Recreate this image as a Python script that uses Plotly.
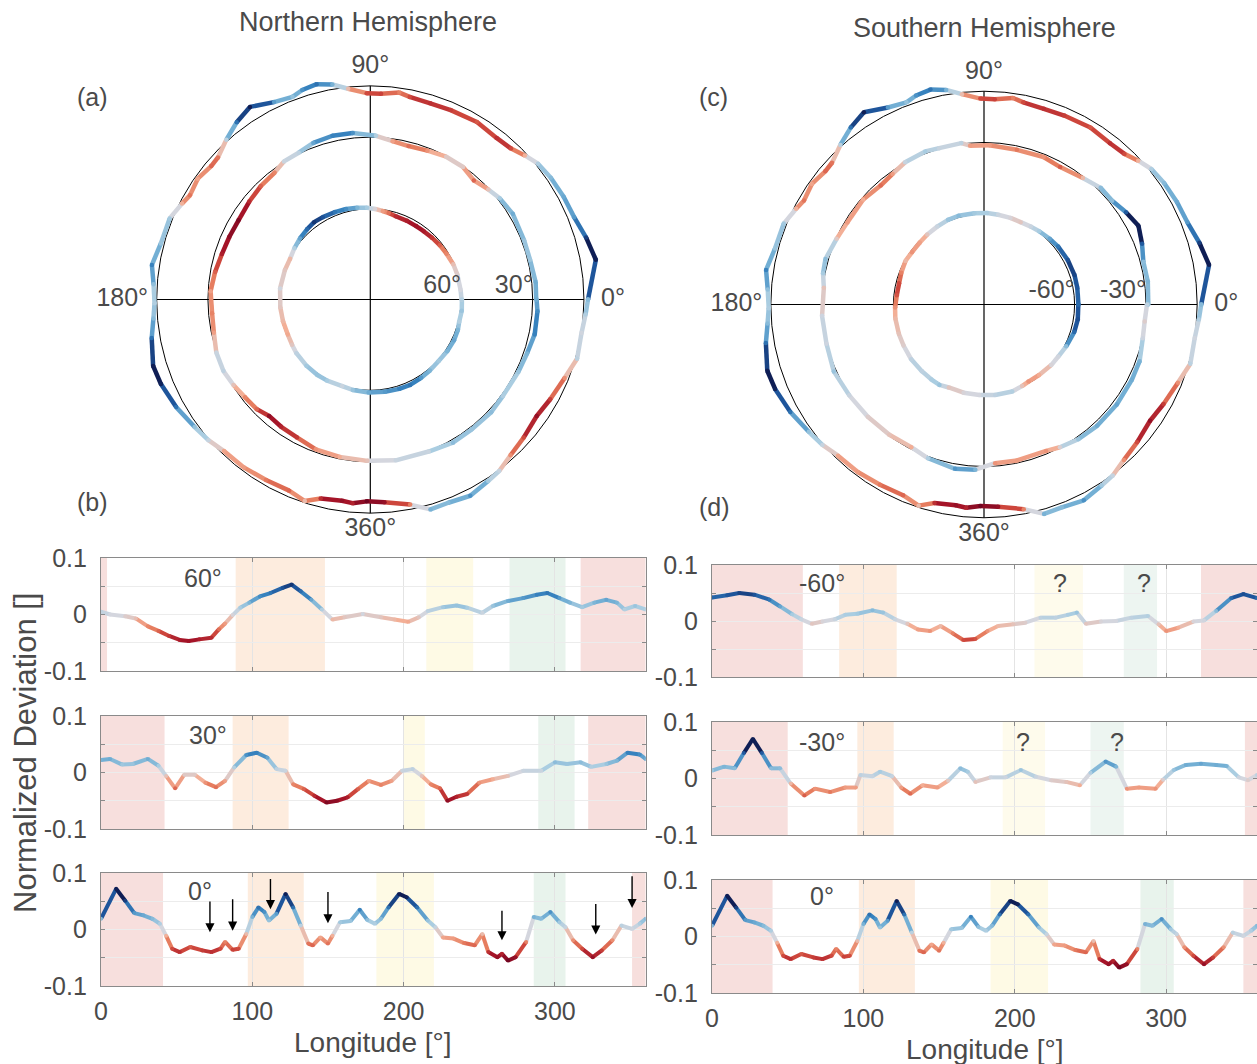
import plotly.graph_objects as go
from plotly.colors import sample_colorscale

# ---------------- data ----------------
# Equator (0 deg) – same curve is used in both hemispheres
LON_EQ = [0, 10, 16, 22, 28, 34, 39, 43, 47, 52, 59, 67, 73, 79, 82, 87, 91, 96, 100, 104,
          108, 111, 116, 122, 127, 132, 137, 140, 145, 150, 153, 158, 165, 171, 176, 181, 185, 190, 197, 202,
          209, 216, 221, 226, 233, 240, 247, 252, 256, 262, 265, 269, 274, 281, 286, 291, 297, 303, 307, 312,
          318, 325, 331, 338, 344, 351, 356, 360]
DEV_EQ = [0.019, 0.072, 0.051, 0.029, 0.025, 0.019, 0.010, -0.011, -0.034, -0.040,
          -0.031, -0.037, -0.040, -0.034, -0.022, -0.036, -0.034, -0.008, 0.022, 0.039,
          0.031, 0.016, 0.028, 0.063, 0.039, 0.007, -0.025, -0.028, -0.014, -0.025,
          -0.011, 0.013, 0.015, 0.035, 0.017, 0.010, 0.019, 0.039, 0.063, 0.057,
          0.039, 0.016, 0.004, -0.014, -0.016, -0.024, -0.028, -0.008, -0.040, -0.049,
          -0.043, -0.055, -0.049, -0.022, 0.022, 0.019, 0.031, 0.013, 0.004, -0.019,
          -0.034, -0.049, -0.037, -0.019, 0.007, 0.001, 0.010, 0.019]

LON_N60 = [0, 6, 16, 23, 31, 38, 45, 52, 58, 65, 73, 78, 82, 87, 92, 98, 105, 112, 120, 126,
           132, 139, 146, 153, 161, 173, 185, 194, 203, 210, 216, 226, 235, 242, 252, 259, 269, 279, 288, 295,
           303, 310, 318, 326, 334, 341, 346, 353, 360]
DEV_N60 = [0.005, 0.0, -0.003, -0.007, -0.021, -0.029, -0.038, -0.045, -0.047, -0.044,
           -0.041, -0.026, -0.016, -0.001, 0.012, 0.021, 0.032, 0.038, 0.047, 0.053,
           0.041, 0.026, 0.009, -0.009, -0.005, 0.001, -0.005, -0.009, -0.013, -0.005,
           0.006, 0.013, 0.016, 0.012, 0.003, 0.015, 0.024, 0.029, 0.035, 0.038,
           0.029, 0.021, 0.013, 0.021, 0.026, 0.021, 0.009, 0.015, 0.009]

LON_N30 = [0, 6, 14, 21, 31, 38, 43, 49, 55, 62, 69, 76, 82, 88, 96, 103, 110, 116, 122, 127,
           134, 141, 149, 156, 163, 170, 177, 185, 192, 199, 206, 212, 218, 224, 229, 235, 242, 250, 259, 269,
           279, 291, 300, 308, 317, 324, 334, 341, 348, 356, 360]
DEV_N30 = [0.022, 0.024, 0.014, 0.015, 0.024, 0.012, -0.006, -0.028, -0.004, -0.004,
           -0.018, -0.026, -0.015, 0.009, 0.031, 0.035, 0.026, 0.006, 0.003, -0.021,
           -0.029, -0.041, -0.053, -0.050, -0.044, -0.029, -0.015, -0.022, -0.015, 0.003,
           0.006, -0.006, -0.021, -0.028, -0.050, -0.043, -0.038, -0.018, -0.012, -0.006,
           0.003, 0.003, 0.018, 0.015, 0.018, 0.010, 0.015, 0.021, 0.035, 0.032, 0.024]

LON_S60 = [0, 10, 18, 28, 38, 45, 53, 59, 66, 73, 81, 88, 96, 106, 113, 121, 129, 136, 144, 151,
           159, 166, 174, 182, 189, 199, 207, 217, 227, 235, 241, 247, 257, 267, 277, 288, 295, 300, 308, 318,
           325, 333, 343, 351, 360]
DEV_S60 = [0.042, 0.046, 0.050, 0.047, 0.038, 0.026, 0.012, 0.003, -0.005, -0.001,
           0.003, 0.011, 0.013, 0.019, 0.015, 0.003, -0.005, -0.015, -0.018, -0.009,
           -0.022, -0.034, -0.032, -0.018, -0.009, -0.006, -0.003, 0.006, 0.006, 0.011,
           0.015, -0.005, -0.001, 0.0, 0.006, 0.009, -0.006, -0.018, -0.012, -0.001,
           0.001, 0.018, 0.041, 0.048, 0.041]

LON_S30 = [0, 8, 15, 21, 27, 33, 39, 45, 52, 61, 68, 78, 88, 95, 98, 106, 111, 119, 125, 131,
           139, 149, 156, 164, 169, 174, 184, 194, 204, 214, 224, 234, 243, 250, 260, 267, 274, 282, 293, 298,
           305, 313, 323, 333, 340, 348, 354, 360]
DEV_S30 = [0.014, 0.021, 0.018, 0.045, 0.070, 0.045, 0.018, 0.018, -0.009, -0.030,
           -0.018, -0.024, -0.016, -0.016, 0.006, 0.004, 0.012, 0.004, -0.016, -0.027,
           -0.012, -0.016, -0.004, 0.018, 0.012, -0.006, 0.002, 0.002, 0.015, 0.003,
           -0.003, -0.006, -0.012, 0.010, 0.030, 0.021, -0.018, -0.016, -0.018, -0.002,
           0.015, 0.024, 0.026, 0.024, 0.022, 0.002, -0.003, 0.006]

# shaded longitude bands per panel: (start, end, colour key)
BANDS_N60 = [(0, 4, 'r'), (89, 148, 'o'), (215, 246, 'y'), (270, 307, 'g'), (317, 360, 'r')]
BANDS_N30 = [(0, 42, 'r'), (87, 124, 'o'), (200, 214, 'y'), (289, 313, 'g'), (322, 360, 'r')]
BANDS_N0 = [(0, 41, 'r'), (97, 134, 'o'), (182, 220, 'y'), (286, 307, 'g'), (351, 360, 'r')]
BANDS_S60 = [(0, 60, 'r'), (84, 122, 'o'), (213, 245, 'y2'), (272, 294, 'g2'), (323, 360, 'r')]
BANDS_S30 = [(0, 50, 'r'), (96, 120, 'o'), (192, 220, 'y2'), (250, 272, 'g2'), (352, 360, 'r')]
BANDS_S0 = [(0, 40, 'r'), (97, 134, 'o'), (184, 222, 'y'), (283, 305, 'g'), (351, 360, 'r')]

# arrows in panel (b), 0 deg
ARROW_LON = [72, 87, 112, 150, 265, 327, 351]
ARROW_TIP = [-0.005, -0.002, 0.036, 0.011, -0.019, -0.009, 0.038]
ARROW_TAIL = [0.052, 0.056, 0.092, 0.069, 0.036, 0.048, 0.097]

RING_R = {'60': 0.425, '30': 0.76, '0': 1.0}
X_TICKS = [0, 100, 200, 300]
Y_TICKS = [-0.1, -0.05, 0, 0.05, 0.1]
Y_TICKTEXT = ['-0.1', '', '0', '', '0.1']

# ---------------- styling ----------------
W, H = 1257, 1064
TXT = '#4a4a4a'
FONT = 'Liberation Sans, Arial, sans-serif'
CSCALE = [
    [0.0, 'rgb(95,0,30)'], [0.1, 'rgb(165,20,40)'], [0.2, 'rgb(205,70,60)'],
    [0.3, 'rgb(230,125,95)'], [0.4, 'rgb(243,175,150)'], [0.5, 'rgb(212,214,222)'],
    [0.6, 'rgb(170,205,225)'], [0.7, 'rgb(115,175,212)'], [0.8, 'rgb(55,130,190)'],
    [0.9, 'rgb(30,85,155)'], [1.0, 'rgb(15,30,85)'],
]
VMAX = 0.058
NBINS = 31
BAND_COL = {'r': 'rgb(247,223,221)', 'o': 'rgb(253,236,222)',
            'y': 'rgb(254,250,229)', 'g': 'rgb(232,243,236)',
            'y2': 'rgb(254,251,236)', 'g2': 'rgb(237,245,241)'}
LINE_W = 4.0


def px_x(p):
    return p / W


def px_y(p):
    return 1 - p / H


def tnorm(v):
    return min(max((v + VMAX) / (2 * VMAX), 0.0), 1.0)


def segment_traces(xs, ys, vals, make):
    bins = {}
    for i in range(len(xs) - 1):
        m = 0.5 * (vals[i] + vals[i + 1])
        b = int(round(tnorm(m) * (NBINS - 1)))
        bx, by = bins.setdefault(b, ([], []))
        bx += [xs[i], xs[i + 1], None]
        by += [ys[i], ys[i + 1], None]
    out = []
    for b, (bx, by) in sorted(bins.items()):
        col = sample_colorscale(CSCALE, [b / (NBINS - 1)])[0]
        out.append(make(bx, by, col))
    return out


fig = go.Figure()

# ---------------- line panels ----------------
panels = [
    (1, LON_N60, DEV_N60, BANDS_N60, (101, 645.7), (558, 671)),
    (2, LON_N30, DEV_N30, BANDS_N30, (101, 645.7), (716, 829)),
    (3, LON_EQ, DEV_EQ, BANDS_N0, (101, 645.7), (873, 986)),
    (4, LON_S60, DEV_S60, BANDS_S60, (712, 1257.5), (565, 677)),
    (5, LON_S30, DEV_S30, BANDS_S30, (712, 1257.5), (722, 835)),
    (6, LON_EQ, DEV_EQ, BANDS_S0, (712, 1257.5), (880, 993)),
]

shapes = []
layout_axes = {}
for n, lon, dev, bands, (x0, x1), (y0, y1) in panels:
    xa = 'x' if n == 1 else f'x{n}'
    ya = 'y' if n == 1 else f'y{n}'
    for b0, b1, key in bands:
        shapes.append(dict(type='rect', xref=xa, yref=f'{ya} domain', x0=b0, x1=b1, y0=0, y1=1,
                           fillcolor=BAND_COL[key], line=dict(width=0), layer='below'))

    def mk(bx, by, col, xa=xa, ya=ya):
        return go.Scatter(x=bx, y=by, mode='lines', xaxis=xa, yaxis=ya,
                          line=dict(color=col, width=LINE_W), hoverinfo='skip', showlegend=False)
    for tr in segment_traces(lon, dev, dev, mk):
        fig.add_trace(tr)
    fig.add_trace(go.Scatter(x=lon, y=dev, mode='markers', xaxis=xa, yaxis=ya, showlegend=False,
                             marker=dict(size=LINE_W, color=dev, colorscale=CSCALE, cmin=-VMAX, cmax=VMAX,
                                         line=dict(width=0)), hoverinfo='skip'))
    bottom = n in (3, 6)
    xkey = 'xaxis' if n == 1 else f'xaxis{n}'
    ykey = 'yaxis' if n == 1 else f'yaxis{n}'
    layout_axes[xkey] = dict(domain=[px_x(x0), min(px_x(x1), 1.0)], anchor=ya, range=[0, 360],
                             tickvals=X_TICKS, showticklabels=bottom, ticks='inside', ticklen=4,
                             tickcolor='#8a8a8a', showgrid=True, gridcolor='#e4e4e4', gridwidth=1,
                             showline=True, linecolor='#8a8a8a', linewidth=1.2, mirror='ticks',
                             zeroline=False, tickfont=dict(size=25, color=TXT), ticklabelstandoff=3,
                             automargin=False)
    layout_axes[ykey] = dict(domain=[px_y(y1), px_y(y0)], anchor=xa, range=[-0.1, 0.1],
                             tickvals=Y_TICKS, ticktext=Y_TICKTEXT, ticks='inside', ticklen=4,
                             tickcolor='#8a8a8a', showgrid=True, gridcolor='#ececec', gridwidth=1,
                             showline=True, linecolor='#8a8a8a', linewidth=1.2, mirror='ticks',
                             zeroline=False, tickfont=dict(size=25, color=TXT), ticklabelstandoff=8,
                             automargin=False)

# ---------------- polar panels ----------------
# (centre x, centre y, radius of the whole polar area) in px
polars = [
    ('polar', [(LON_N60, DEV_N60, RING_R['60']), (LON_N30, DEV_N30, RING_R['30']), (LON_EQ, DEV_EQ, RING_R['0'])],
     ['60°', '30°'], (370.3, 299.5, 235.0)),
    ('polar2', [(LON_S60, DEV_S60, RING_R['60']), (LON_S30, DEV_S30, RING_R['30']), (LON_EQ, DEV_EQ, RING_R['0'])],
     ['-60°', '-30°'], (984.0, 304.5, 234.5)),
]
R_MAX = 1.1
for sub, rings, rlabels, (cx, cy, rad) in polars:
    # cross lines
    for th in (0, 90):
        fig.add_trace(go.Scatterpolar(r=[1.0, 0, 1.0], theta=[th, th, th + 180], mode='lines',
                                      line=dict(color='black', width=1.2), subplot=sub,
                                      hoverinfo='skip', showlegend=False))
    for lon, dev, R in rings:
        rr = [R * (1 + d) for d in dev]

        def mkp(bx, by, col, sub=sub):
            return go.Scatterpolar(r=by, theta=bx, mode='lines', subplot=sub,
                                   line=dict(color=col, width=LINE_W + 0.5), hoverinfo='skip',
                                   showlegend=False)
        for tr in segment_traces(lon, rr, dev, mkp):
            fig.add_trace(tr)
        fig.add_trace(go.Scatterpolar(r=rr, theta=lon, mode='markers', subplot=sub, showlegend=False,
                                      marker=dict(size=LINE_W + 0.5, color=dev, colorscale=CSCALE,
                                                  cmin=-VMAX, cmax=VMAX, line=dict(width=0)),
                                      hoverinfo='skip'))
    # ring labels
    fig.add_trace(go.Scatterpolar(r=[RING_R['60'], RING_R['30']], theta=[0, 0], mode='text', text=rlabels,
                                  textposition='top left', subplot=sub, cliponaxis=False,
                                  textfont=dict(size=25, color=TXT, family=FONT), hoverinfo='skip',
                                  showlegend=False))
    fig.add_trace(go.Scatterpolar(r=[1.08, 1.03, 1.04, 1.02], theta=[0, 90, 180, 270], mode='text',
                                  text=['0°', '90°', '180°', '360°'],
                                  textposition=['middle right', 'top center', 'middle left', 'bottom center'],
                                  subplot=sub, cliponaxis=False,
                                  textfont=dict(size=25, color=TXT, family=FONT), hoverinfo='skip',
                                  showlegend=False))
    layout_axes[sub] = dict(
        domain=dict(x=[px_x(cx - rad), px_x(cx + rad)], y=[px_y(cy + rad), px_y(cy - rad)]),
        bgcolor='rgba(0,0,0,0)',
        radialaxis=dict(range=[0, R_MAX], tickvals=[RING_R['60'], RING_R['30'], RING_R['0']],
                        showticklabels=False, ticks='', showline=False, showgrid=True,
                        gridcolor='black', gridwidth=1.2, layer='above traces'),
        angularaxis=dict(rotation=0, direction='counterclockwise', showline=False, showgrid=False,
                         showticklabels=False, ticks=''),
    )

# ---------------- annotations ----------------
ann = []


def txt(s, x, y, size=25, **kw):
    ann.append(dict(text=s, x=px_x(x), y=px_y(y), xref='paper', yref='paper', showarrow=False,
                    xanchor='center', yanchor='middle', font=dict(size=size, color=TXT, family=FONT), **kw))


txt('Northern Hemisphere', 368, 22, 27)
txt('Southern Hemisphere', 985, 28, 27)
txt('(a)', 92, 97)
txt('(b)', 92, 502)
txt('(c)', 713, 97)
txt('(d)', 714, 507)
txt('Normalized Deviation []', 25, 753, 31, textangle=-90)
txt('Longitude [°]', 373, 1042, 28)
txt('Longitude [°]', 985, 1049, 28)
txt('60°', 203, 578)
txt('30°', 208, 735)
txt('0°', 200, 891)
txt('-60°', 822, 583)
txt('-30°', 822, 742)
txt('0°', 822, 896)
txt('?', 1060, 583)
txt('?', 1144, 583)
txt('?', 1023, 742)
txt('?', 1117, 742)

for lx, tip, tail in zip(ARROW_LON, ARROW_TIP, ARROW_TAIL):
    ann.append(dict(x=lx, y=tip, ax=lx, ay=tail, xref='x3', yref='y3', axref='x3', ayref='y3',
                    showarrow=True, arrowhead=2, arrowsize=1.3, arrowwidth=1.4, arrowcolor='black',
                    standoff=0, text=''))

fig.update_layout(
    width=W, height=H, margin=dict(l=0, r=0, t=0, b=0, pad=0, autoexpand=False),
    paper_bgcolor='white', plot_bgcolor='rgba(0,0,0,0)',
    font=dict(family=FONT, color=TXT), showlegend=False,
    shapes=shapes, annotations=ann, **layout_axes,
)

fig.write_html('out.html')
